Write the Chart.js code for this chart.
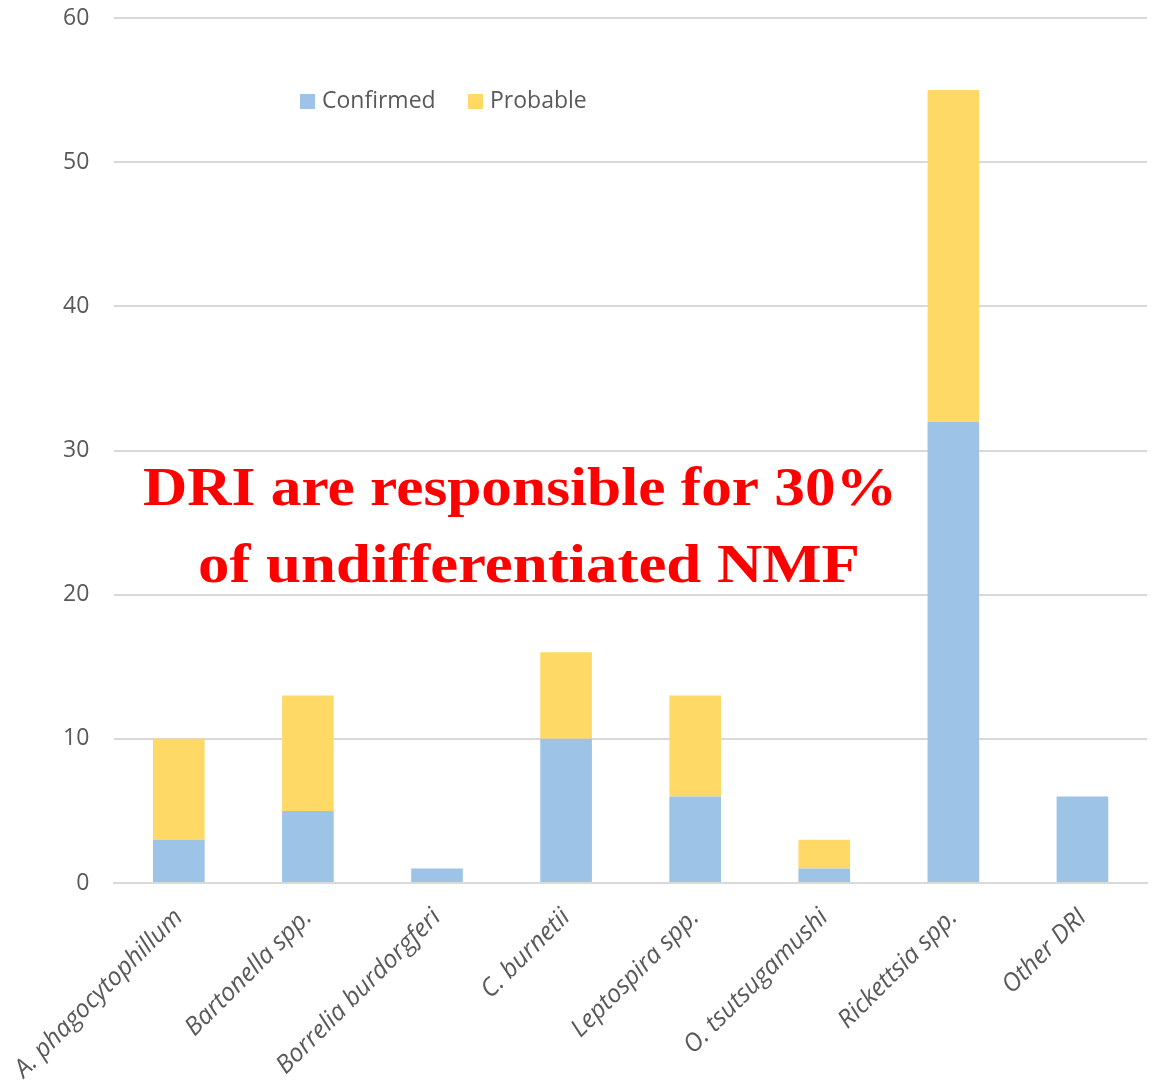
<!DOCTYPE html>
<html>
<head>
<meta charset="utf-8">
<script src="https://cdn.jsdelivr.net/npm/chart.js@4"></script>
<style>
  html, body { margin: 0; padding: 0; background: #fff; }
  #wrap { width: 1153px; height: 1086px; }
</style>
</head>
<body>
<div id="wrap"><canvas id="dri-chart"></canvas></div>
<script>
var categories = ['A. phagocytophillum', 'Bartonella spp.', 'Borrelia burdorgferi', 'C. burnetii',
    'Leptospira spp.', 'O. tsutsugamushi', 'Rickettsia spp.', 'Other DRI'];
var confirmed = [3, 5, 1, 10, 6, 1, 32, 6];
var probable = [7, 8, 0, 6, 7, 2, 23, 0];
var yTicks = [0, 10, 20, 30, 40, 50, 60];
var headline = ['DRI are responsible for 30%', 'of undifferentiated NMF'];

// legend drawn inside the plot, like the original
var innerLegend = {
    id: 'innerLegend',
    afterDraw: function(chart){
        var ctx = chart.ctx;
        ctx.save();
        ctx.font = '23px "Open Sans"';
        ctx.textBaseline = 'middle';
        var boxX = [300, 468];
        var y = 101;
        chart.data.datasets.forEach(function(ds, i){
            ctx.fillStyle = ds.backgroundColor;
            ctx.fillRect(boxX[i], y - 7, 15, 15);
            ctx.fillStyle = '#595959';
            ctx.fillText(ds.label, boxX[i] + 22, y);
        });
        ctx.restore();
    }
};

// red headline, stretched sideways to the original width
var headlineText = {
    id: 'headlineText',
    afterDraw: function(chart){
        var ctx = chart.ctx;
        var lines = [
            { text: headline[0], cx: 520, y: 505, w: 754 },
            { text: headline[1], cx: 529, y: 582, w: 662 }
        ];
        ctx.save();
        ctx.font = 'bold 54px "Liberation Serif"';
        ctx.fillStyle = '#ff0000';
        ctx.textAlign = 'center';
        ctx.textBaseline = 'alphabetic';
        lines.forEach(function(l){
            var sx = l.w / ctx.measureText(l.text).width;
            ctx.save();
            ctx.translate(l.cx, l.y);
            ctx.scale(sx, 1);
            ctx.fillText(l.text, 0, 0);
            ctx.restore();
        });
        ctx.restore();
    }
};

var driChart = new Chart(document.getElementById('dri-chart'), {
    type: 'bar',
    data: {
        labels: categories,
        datasets: [{
            label: 'Confirmed',
            data: confirmed,
            backgroundColor: '#9dc3e6',
            categoryPercentage: 1,
            barPercentage: 0.4
        }, {
            label: 'Probable',
            data: probable,
            backgroundColor: '#ffd966',
            categoryPercentage: 1,
            barPercentage: 0.4
        }]
    },
    options: {
        responsive: true,
        maintainAspectRatio: false,
        animation: false,
        layout: { padding: { left: 0, right: 6, top: 0, bottom: 0 } },
        plugins: {
            legend: { display: false },
            tooltip: { enabled: false }
        },
        scales: {
            x: {
                stacked: true,
                grid: { display: false },
                border: { color: '#d9d9d9', width: 2 },
                ticks: {
                    color: '#595959',
                    font: { family: '"Open Sans"', size: 25, style: 'italic' },
                    minRotation: 45,
                    maxRotation: 45,
                    padding: 12
                },
                afterFit: function(scale){ scale.height = 203; }
            },
            y: {
                stacked: true,
                min: 0,
                max: 60,
                afterBuildTicks: function(scale){
                    scale.ticks = yTicks.map(function(v){ return { value: v }; });
                },
                grid: { color: '#d9d9d9', lineWidth: 2, drawTicks: false },
                border: { display: false },
                ticks: {
                    color: '#595959',
                    font: { family: '"Open Sans"', size: 23 },
                    padding: 25
                },
                afterFit: function(scale){
                    scale.width = 113;
                    scale.paddingTop = 18;
                }
            }
        }
    },
    plugins: [innerLegend, headlineText]
});
</script>
</body>
</html>
